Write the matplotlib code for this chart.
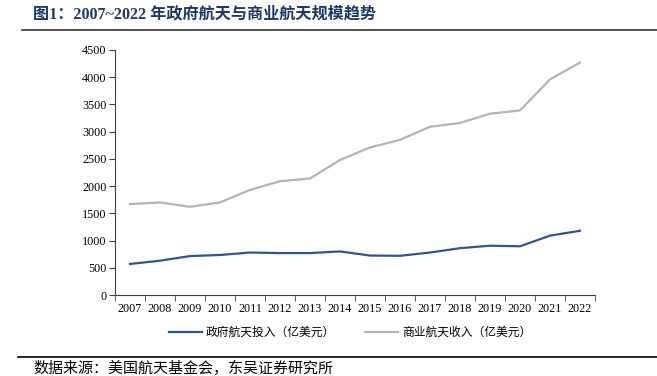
import matplotlib
matplotlib.use("Agg")
import matplotlib.pyplot as plt
from matplotlib.lines import Line2D

years = ["2007", "2008", "2009", "2010", "2011", "2012", "2013", "2014",
         "2015", "2016", "2017", "2018", "2019", "2020", "2021", "2022"]
gov = [570, 630, 715, 735, 780, 770, 770, 800, 725, 720, 780, 860, 905, 895, 1090, 1180]
com = [1670, 1700, 1620, 1700, 1930, 2090, 2140, 2480, 2710, 2850, 3090, 3160, 3330, 3390, 3960, 4270]
series_names = ["政府航天投入（亿美元）", "商业航天收入（亿美元）"]
yticks = [0, 500, 1000, 1500, 2000, 2500, 3000, 3500, 4000, 4500]

FAM = ["Liberation Serif", "Noto Sans CJK SC"]
W, H = 657, 376
fig = plt.figure(figsize=(W / 100, H / 100), dpi=100)

# axes: x 115..595, y 50..295 (pixels from top)
ax = fig.add_axes([115 / W, 1 - 295 / H, 480 / W, 245 / H])
x = list(range(len(years)))
ax.plot(x, gov, color="#2F5597", lw=1.6)
ax.plot(x, com, color="#B4B4B4", lw=1.6)
ax.set_xlim(-0.5, len(years) - 0.5)
ax.set_ylim(0, 4500)
ax.set_yticks(yticks)
ax.set_yticklabels([str(v) for v in yticks], family=FAM, fontsize=8.7)
ax.set_xticks(x)
ax.set_xticklabels(years, family=FAM, fontsize=8.7)
ax.tick_params(axis="x", length=0, pad=6)
ax.set_xticks([i - 0.5 for i in range(len(years) + 1)], minor=True)
ax.tick_params(axis="x", which="minor", length=4, direction="out", color="#404040")
ax.tick_params(axis="y", length=4, direction="out", color="#404040", pad=2)
for s in ["top", "right"]:
    ax.spines[s].set_visible(False)
for s in ["left", "bottom"]:
    ax.spines[s].set_color("#404040")
    ax.spines[s].set_linewidth(0.8)

# legend
handles = [Line2D([], [], color="#2F5597", lw=1.6), Line2D([], [], color="#B4B4B4", lw=1.6)]
fig.legend(handles, series_names, loc="center", bbox_to_anchor=(350 / W, 1 - 333 / H),
           ncol=2, frameon=False, prop={"family": FAM, "size": 8.5},
           handlelength=2.8, columnspacing=2.6, handletextpad=0.3)

# title
fig.text(33 / W, 1 - 14 / H, "图1：2007~2022 年政府航天与商业航天规模趋势", family=FAM,
         fontsize=11.6, fontweight="bold", color="#1F3864", va="center", ha="left")
fig.add_artist(Line2D([22 / W, 1.0], [1 - 29.5 / H, 1 - 29.5 / H], color="#333333", lw=1.2))

# source
fig.add_artist(Line2D([18 / W, 1.0], [1 - 357 / H, 1 - 357 / H], color="#000000", lw=1.2))
fig.text(33 / W, 1 - 361 / H, "数据来源：美国航天基金会，东吴证券研究所", family=FAM,
         fontsize=10.8, color="#000000", va="top", ha="left")

fig.savefig("out.png", dpi=100)
